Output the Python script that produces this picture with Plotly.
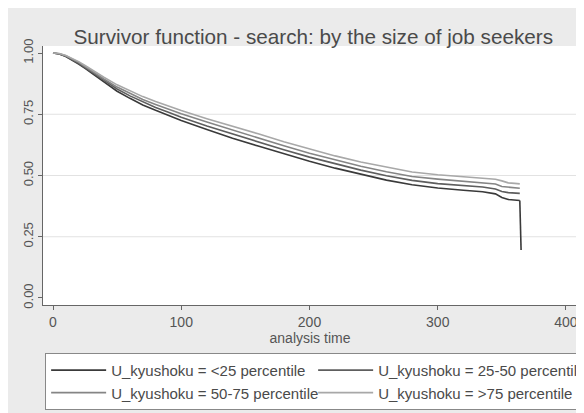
import plotly.graph_objects as go

# analysis time (days)
time = [0, 5, 10, 15, 20, 25, 30, 35, 40, 50, 60, 70, 80, 90, 100, 120, 140, 160,
        180, 200, 220, 240, 260, 280, 300, 320, 335, 345, 350, 355, 360, 364]

surv_lt25 = [1.0, 0.996, 0.986, 0.972, 0.955, 0.937, 0.918, 0.898, 0.880, 0.844, 0.815,
             0.788, 0.766, 0.745, 0.725, 0.688, 0.652, 0.620, 0.588, 0.558, 0.530, 0.505,
             0.481, 0.462, 0.449, 0.440, 0.434, 0.425, 0.410, 0.402, 0.400, 0.398]
surv_25_50 = [1.0, 0.996, 0.987, 0.974, 0.958, 0.941, 0.923, 0.904, 0.887, 0.853, 0.825,
              0.800, 0.778, 0.758, 0.738, 0.702, 0.669, 0.637, 0.605, 0.575, 0.547, 0.522,
              0.499, 0.480, 0.467, 0.459, 0.453, 0.445, 0.435, 0.430, 0.428, 0.427]
surv_50_75 = [1.0, 0.997, 0.989, 0.976, 0.962, 0.945, 0.927, 0.910, 0.893, 0.861, 0.835,
              0.810, 0.790, 0.770, 0.752, 0.718, 0.685, 0.653, 0.621, 0.591, 0.563, 0.538,
              0.515, 0.496, 0.485, 0.477, 0.471, 0.465, 0.455, 0.452, 0.450, 0.448]
surv_gt75 = [1.0, 0.998, 0.990, 0.978, 0.965, 0.949, 0.932, 0.916, 0.900, 0.870, 0.845,
             0.822, 0.802, 0.783, 0.765, 0.732, 0.702, 0.670, 0.638, 0.608, 0.580, 0.555,
             0.533, 0.514, 0.503, 0.496, 0.490, 0.485, 0.478, 0.470, 0.468, 0.466]

# final drop of the <25 group
tail_time = [364, 365]
tail_lt25 = [0.398, 0.196]

series_names = ["U_kyushoku = <25 percentile", "U_kyushoku = 25-50 percentile",
                "U_kyushoku = 50-75 percentile", "U_kyushoku = >75 percentile"]
series_colors = ["#3a3a3a", "#5e5e5e", "#858585", "#a8a8a8"]

x_ticks = [0, 100, 200, 300, 400]
y_ticks = [0, 0.25, 0.5, 0.75, 1.0]
y_ticktext = ["0.00", "0.25", "0.50", "0.75", "1.00"]
y_grid = [0.25, 0.5, 0.75]

fig = go.Figure()
all_series = [surv_lt25, surv_25_50, surv_50_75, surv_gt75]
for name, vals, col in zip(series_names, all_series, series_colors):
    fig.add_trace(go.Scatter(x=time, y=vals, mode="lines", name=name,
                             line=dict(color=col, width=1.6)))
fig.add_trace(go.Scatter(x=tail_time, y=tail_lt25, mode="lines", showlegend=False,
                         line=dict(color=series_colors[0], width=1.6)))

shapes = [dict(type="line", xref="paper", x0=0, x1=1, yref="y", y0=g, y1=g,
               line=dict(color="#e2e2e2", width=1), layer="below") for g in y_grid]

fig.update_layout(
    width=576, height=405,
    margin=dict(l=35, r=7, t=38, b=108, autoexpand=False),
    paper_bgcolor="#ebebeb", plot_bgcolor="#ffffff",
    font=dict(family="Liberation Sans, Arial, sans-serif", color="#4a4a4a", size=12),
    title=dict(text="Survivor function - search: by the size of job seekers",
               x=0.53, xanchor="center", y=0.928, yanchor="middle",
               font=dict(size=20.7, color="#4a4a4a")),
    shapes=shapes,
    xaxis=dict(range=[-7.8, 408.6], tickvals=x_ticks, showgrid=False, zeroline=False,
               showline=True, linecolor="#666666", linewidth=1, mirror=False,
               ticks="outside", ticklen=4, tickcolor="#666666",
               tickfont=dict(size=14, color="#555555"),
               title=dict(text="analysis time", font=dict(size=14, color="#555555"),
                          standoff=0)),
    yaxis=dict(range=[-0.0286, 1.0286], tickvals=y_ticks, ticktext=y_ticktext,
               tickangle=-90, showgrid=False, zeroline=False,
               showline=True, linecolor="#666666", linewidth=1,
               ticks="outside", ticklen=4, tickcolor="#666666",
               tickfont=dict(size=13, color="#555555")),
    legend=dict(orientation="h", x=0.004, xanchor="left", y=-0.185, yanchor="top",
                bgcolor="#ffffff", bordercolor="#888888", borderwidth=1,
                entrywidth=197, tracegroupgap=0, itemwidth=55,
                font=dict(size=15, color="#4a4a4a")),
)

fig.write_html("out.html")
